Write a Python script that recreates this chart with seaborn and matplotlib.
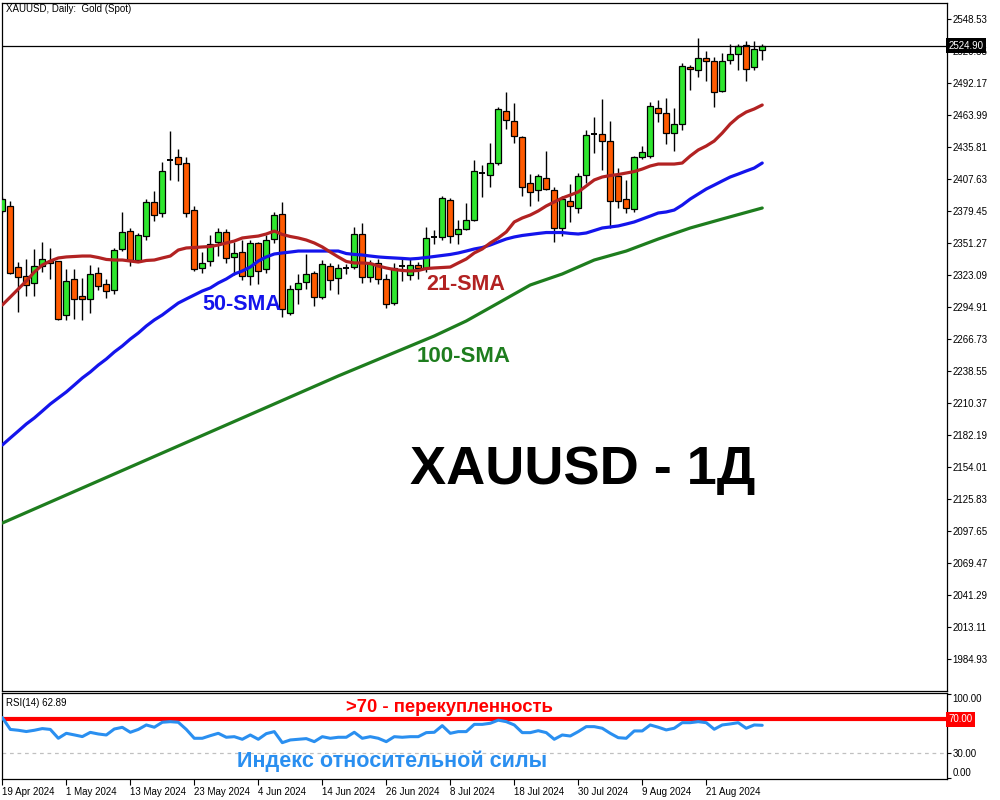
import numpy as np
import pandas as pd
import matplotlib
matplotlib.use("Agg")
import matplotlib.pyplot as plt
import seaborn as sns

# ---------------- data ----------------
opens = [2379.5, 2383.9, 2330.1, 2322.2, 2316.1, 2331.0, 2335.4, 2335.4, 2287.9, 2319.6,
         2304.6, 2302.0, 2324.9, 2315.2, 2309.9, 2346.0, 2361.8, 2336.3, 2357.4, 2387.4,
         2377.7, 2424.6, 2427.0, 2421.7, 2380.3, 2329.3, 2335.4, 2352.2, 2361.0, 2339.0,
         2343.3, 2322.2, 2351.3, 2328.4, 2354.8, 2376.8, 2289.6, 2310.8, 2316.9, 2324.9,
         2303.7, 2331.0, 2320.5, 2329.5, 2330.1, 2359.2, 2321.3, 2333.7, 2319.6, 2298.4,
         2330.8, 2323.1, 2331.9, 2329.3, 2356.8, 2356.6, 2389.1, 2359.2, 2363.6, 2371.5,
         2412.7, 2411.2, 2421.7, 2467.5, 2458.7, 2444.6, 2404.1, 2398.0, 2408.5, 2398.0,
         2364.5, 2388.3, 2382.1, 2411.2, 2447.0, 2447.3, 2441.1, 2410.3, 2390.0, 2381.2,
         2427.0, 2427.9, 2470.2, 2465.8, 2448.1, 2456.1, 2506.3, 2503.6, 2514.2, 2511.5,
         2485.1, 2512.4, 2517.7, 2525.6, 2506.3, 2521.2]
highs = [2391.8, 2388.3, 2334.5, 2337.2, 2346.0, 2352.2, 2346.9, 2335.8, 2328.4, 2328.4,
         2320.5, 2331.9, 2330.1, 2319.6, 2346.9, 2378.6, 2364.5, 2360.1, 2390.0, 2397.1,
         2422.6, 2449.9, 2434.1, 2427.0, 2383.9, 2343.3, 2358.3, 2364.5, 2363.6, 2352.2,
         2353.9, 2353.9, 2352.2, 2358.3, 2378.6, 2387.4, 2314.3, 2324.0, 2341.6, 2326.6,
         2336.3, 2333.7, 2332.8, 2332.8, 2365.4, 2368.9, 2336.3, 2337.2, 2324.0, 2333.7,
         2338.1, 2338.1, 2334.5, 2365.4, 2362.7, 2392.7, 2390.9, 2371.5, 2386.5, 2424.4,
         2420.0, 2439.3, 2471.0, 2484.2, 2474.6, 2445.5, 2412.0, 2412.0, 2432.3, 2400.6,
         2392.7, 2403.2, 2412.9, 2450.8, 2462.2, 2478.1, 2458.7, 2417.3, 2406.8, 2427.9,
         2436.7, 2475.4, 2477.2, 2479.0, 2470.2, 2509.8, 2508.0, 2531.8, 2520.3, 2515.1,
         2518.6, 2526.5, 2526.5, 2529.2, 2529.2, 2526.5]
lows = [2377.7, 2324.0, 2290.5, 2304.6, 2304.6, 2325.7, 2319.6, 2283.5, 2283.5, 2284.3,
        2283.5, 2289.6, 2309.9, 2302.8, 2306.4, 2344.2, 2331.0, 2335.4, 2353.9, 2370.7,
        2374.2, 2406.8, 2405.9, 2374.2, 2326.6, 2324.9, 2331.0, 2339.8, 2333.7, 2323.1,
        2318.7, 2314.3, 2315.2, 2324.9, 2351.3, 2286.1, 2287.9, 2297.6, 2310.8, 2295.8,
        2302.0, 2309.9, 2306.4, 2324.0, 2328.4, 2316.1, 2316.9, 2315.2, 2294.0, 2296.7,
        2317.8, 2318.7, 2319.6, 2325.7, 2350.4, 2353.9, 2351.3, 2350.4, 2362.7, 2371.0,
        2391.8, 2400.6, 2420.0, 2451.7, 2439.3, 2392.7, 2383.9, 2388.3, 2398.0, 2352.2,
        2357.4, 2369.8, 2377.7, 2404.1, 2430.5, 2415.6, 2364.5, 2382.1, 2377.7, 2378.6,
        2425.2, 2426.1, 2457.8, 2438.5, 2432.3, 2450.8, 2486.0, 2497.5, 2493.9, 2471.0,
        2484.2, 2508.9, 2503.6, 2493.9, 2503.6, 2512.4]
closes = [2390.0, 2324.9, 2321.3, 2314.3, 2331.0, 2337.2, 2333.7, 2284.3, 2317.8, 2302.0,
          2302.0, 2324.0, 2313.4, 2309.0, 2345.1, 2361.0, 2336.3, 2358.3, 2387.4, 2375.9,
          2414.7, 2424.6, 2420.8, 2377.7, 2328.4, 2333.7, 2350.4, 2361.0, 2338.1, 2342.5,
          2322.2, 2351.3, 2326.6, 2353.9, 2375.9, 2293.2, 2310.8, 2316.1, 2324.0, 2303.7,
          2332.8, 2318.7, 2329.3, 2329.5, 2359.2, 2321.3, 2333.7, 2319.6, 2297.6, 2329.3,
          2330.8, 2331.9, 2329.3, 2355.7, 2356.8, 2390.9, 2357.4, 2363.6, 2371.5, 2414.7,
          2412.7, 2421.7, 2469.3, 2459.6, 2445.5, 2400.6, 2396.2, 2410.3, 2398.8, 2364.5,
          2390.0, 2383.9, 2410.3, 2446.4, 2447.0, 2441.1, 2388.3, 2388.3, 2382.1, 2427.0,
          2431.4, 2471.9, 2465.8, 2448.1, 2456.1, 2507.1, 2504.5, 2514.2, 2511.5, 2484.2,
          2511.5, 2517.7, 2524.8, 2504.5, 2522.1, 2524.9]

sma21 = [2296.7, 2303.7, 2310.8, 2317.8, 2325.7, 2331.9, 2335.4, 2338.1, 2339.0, 2339.4,
         2339.8, 2339.8, 2338.5, 2336.8, 2336.3, 2336.3, 2335.4, 2334.5, 2335.9, 2336.3,
         2338.1, 2339.8, 2345.1, 2346.9, 2347.3, 2347.8, 2348.2, 2349.5, 2351.3, 2353.0,
         2355.7, 2356.6, 2357.4, 2359.2, 2361.8, 2358.8, 2357.0, 2355.7, 2353.9, 2351.3,
         2347.8, 2343.3, 2339.0, 2335.0, 2333.7, 2333.7, 2333.2, 2331.0, 2329.3, 2327.9,
         2327.1, 2326.6, 2327.1, 2328.8, 2329.3, 2329.7, 2330.1, 2333.7, 2337.2, 2342.5,
         2346.0, 2351.3, 2355.7, 2361.0, 2369.8, 2373.3, 2375.9, 2379.5, 2383.9, 2387.4,
         2390.9, 2393.5, 2396.2, 2401.5, 2406.8, 2409.4, 2410.7, 2411.6, 2412.9, 2414.2,
         2416.4, 2419.1, 2420.8, 2420.8, 2420.8, 2421.7, 2427.9, 2433.2, 2436.7, 2441.1,
         2448.1, 2456.1, 2462.2, 2466.6, 2469.3, 2472.8]
sma50 = [2173.4, 2179.6, 2185.7, 2191.9, 2197.2, 2203.3, 2209.5, 2214.8, 2220.1, 2226.2,
         2232.4, 2237.7, 2243.8, 2249.1, 2255.3, 2260.6, 2266.7, 2272.0, 2278.2, 2283.5,
         2287.9, 2293.2, 2298.4, 2302.0, 2305.5, 2309.0, 2311.7, 2316.1, 2319.6, 2324.0,
         2326.6, 2330.1, 2335.4, 2339.0, 2341.6, 2342.5, 2343.3, 2344.2, 2344.2, 2344.2,
         2344.2, 2344.2, 2344.2, 2342.0, 2341.2, 2340.7, 2339.8, 2339.0, 2338.5, 2338.1,
         2337.7, 2337.2, 2337.7, 2338.5, 2339.4, 2340.3, 2341.2, 2342.5, 2344.2, 2346.0,
         2347.3, 2349.5, 2352.2, 2354.8, 2356.6, 2357.9, 2358.8, 2359.7, 2360.5, 2360.5,
         2360.5, 2359.7, 2359.2, 2360.1, 2362.3, 2364.5, 2365.4, 2366.3, 2368.0, 2369.8,
         2372.4, 2375.0, 2377.7, 2378.6, 2380.3, 2384.7, 2390.0, 2394.4, 2398.8, 2402.3,
         2405.9, 2409.4, 2412.0, 2414.7, 2417.3, 2421.7]
sma100_bar = [0, 6, 12, 18, 24, 30, 36, 42, 48, 54, 58, 62, 66, 70, 74, 78, 82, 86, 90, 95]
sma100 = [2104.7, 2123.2, 2141.7, 2160.2, 2178.7, 2197.2, 2215.7, 2234.2, 2251.8, 2269.4,
          2282.6, 2298.4, 2314.3, 2324.0, 2336.3, 2344.2, 2354.8, 2364.5, 2372.4, 2382.1]

rsi = [72, 58, 57, 55.5, 57, 59, 58, 47.5, 53.4, 51.5,
       49.5, 54.5, 52.6, 51.4, 58.5, 60.5, 54.6, 58, 63.3, 60.6,
       66.5, 67.2, 66.5, 58, 47.5, 47.5, 50.6, 53.4, 48.7, 49.4,
       46.3, 51.4, 46.3, 53, 55.4, 42.3, 45.5, 46.3, 47.1, 43.5,
       49.4, 47.5, 48.7, 48.7, 54.6, 47.5, 49.4, 47.5, 43.5, 49.4,
       48.7, 49.4, 49.4, 54.2, 54.6, 62.5, 53.4, 55.4, 55.4, 64,
       64, 65.3, 69, 67.2, 63.3, 54.2, 54.2, 56.5, 54.2, 46.3,
       51.4, 50.2, 55.4, 61.3, 61.3, 59.4, 53.4, 48.2, 47.5, 56.2,
       56.2, 63.3, 60.6, 57.4, 59.4, 66, 66, 67.2, 66, 58.2,
       63.3, 64.5, 66, 59.4, 63.3, 62.89]

date_tick_bars = [0, 8, 16, 24, 32, 40, 48, 56, 64, 72, 80, 88]
date_tick_labels = ["19 Apr 2024", "1 May 2024", "13 May 2024", "23 May 2024", "4 Jun 2024",
                    "14 Jun 2024", "26 Jun 2024", "8 Jul 2024", "18 Jul 2024", "30 Jul 2024",
                    "9 Aug 2024", "21 Aug 2024"]
price_ticks = [1984.93, 2013.11, 2041.29, 2069.47, 2097.65, 2125.83, 2154.01, 2182.19,
               2210.37, 2238.55, 2266.73, 2294.91, 2323.09, 2351.27, 2379.45, 2407.63,
               2435.81, 2463.99, 2492.17, 2520.35, 2548.53]
rsi_ticks = [0, 30, 70, 100]
last_price = 2524.90
rsi_last = 62.89

# ---------------- styling ----------------
sns.set_style("white")
plt.rcParams["font.family"] = ["Liberation Sans", "DejaVu Sans"]

UP = "#2ee62e"
DOWN = "#ff5a00"
C21 = "#b22222"
C50 = "#1414ec"
C100 = "#1e7d1e"
CRSI = "#2a8ff0"

fig = plt.figure(figsize=(10, 8), dpi=100)
fig.patch.set_facecolor("white")
ax = fig.add_axes([0.002, 0.13625, 0.945, 0.86])
axr = fig.add_axes([0.002, 0.02625, 0.945, 0.1075])

df = pd.DataFrame({"bar": np.arange(len(opens)), "open": opens, "high": highs,
                   "low": lows, "close": closes, "sma21": sma21, "sma50": sma50,
                   "rsi": rsi})
d100 = pd.DataFrame({"bar": sma100_bar, "sma100": sma100})

# candles
ax.vlines(df["bar"], df["low"], df["high"], color="black", lw=1.0, zorder=2)
body_w = 0.72
for _, r in df.iterrows():
    o, c = r["open"], r["close"]
    if abs(c - o) < 0.05:
        ax.hlines(o, r["bar"] - body_w / 2, r["bar"] + body_w / 2, color="black",
                  lw=1.4, zorder=3)
        continue
    col = UP if c > o else DOWN
    ax.bar(r["bar"], abs(c - o), bottom=min(o, c), width=body_w, color=col,
           edgecolor="black", linewidth=0.9, zorder=3)

sns.lineplot(data=d100, x="bar", y="sma100", ax=ax, color=C100, lw=2.3, legend=False, zorder=4)
sns.lineplot(data=df, x="bar", y="sma50", ax=ax, color=C50, lw=2.3, legend=False, zorder=4)
sns.lineplot(data=df, x="bar", y="sma21", ax=ax, color=C21, lw=2.3, legend=False, zorder=4)

ax.axhline(last_price, color="black", lw=0.9, zorder=5)

xlim = (-0.04, 118.1)
ax.set_xlim(*xlim)
ax.set_ylim(1956.77, 2562.62)
ax.set_xlabel("")
ax.set_ylabel("")
ax.set_xticks([])
ax.set_yticks(price_ticks)
ax.set_yticklabels([f"{v:.2f}" for v in price_ticks])
ax.yaxis.tick_right()
ax.tick_params(axis="y", right=True, left=False, labelright=True, labelleft=False,
               length=3, width=0.8, direction="out", pad=1, labelsize=7, colors="black")
for s in ax.spines.values():
    s.set_color("black")
    s.set_linewidth(0.9)

ax.text(1.002, last_price, f"{last_price:.2f}", transform=ax.get_yaxis_transform(),
        ha="left", va="center", fontsize=7, color="white", zorder=10, clip_on=False,
        bbox=dict(boxstyle="square,pad=0.25", fc="black", ec="none"))

# ---------------- RSI panel ----------------
axr.axhline(70, color="#ff0000", lw=3.0, zorder=2)
axr.axhline(30, color="#c0c0c0", lw=0.9, ls=(0, (3, 3)), zorder=1)
sns.lineplot(data=df, x="bar", y="rsi", ax=axr, color=CRSI, lw=2.2, legend=False, zorder=3)
axr.set_xlim(*xlim)
axr.set_ylim(-0.8, 101.2)
axr.set_xlabel("")
axr.set_ylabel("")
axr.set_yticks(rsi_ticks)
axr.set_yticklabels(["0.00", "30.00", "", "100.00"])
axr.yaxis.tick_right()
axr.tick_params(axis="y", right=True, left=False, labelright=True, labelleft=False,
                length=3, width=0.8, direction="out", pad=1, labelsize=7, colors="black")
lbls = axr.get_yticklabels()
lbls[0].set_verticalalignment("bottom")
lbls[3].set_verticalalignment("top")
axr.set_xticks(date_tick_bars)
axr.set_xticklabels(date_tick_labels, ha="left")
axr.tick_params(axis="x", bottom=True, length=4, width=0.8, direction="out", pad=2,
                labelsize=7, colors="black")
for s in axr.spines.values():
    s.set_color("black")
    s.set_linewidth(0.9)
axr.text(1.002, 70, "70.00", transform=axr.get_yaxis_transform(), ha="left", va="center",
         fontsize=7, color="white", zorder=10, clip_on=False,
         bbox=dict(boxstyle="square,pad=0.25", fc="#ff0000", ec="none"))

# ---------------- texts ----------------
fig.text(0.006, 1 - 9 / 800, "XAUUSD, Daily:  Gold (Spot)", ha="left", va="center",
         fontsize=7, color="black")
fig.text(0.006, 1 - 703 / 800, f"RSI(14) {rsi_last:.2f}", ha="left", va="center",
         fontsize=7, color="black")
fig.text(0.583, 1 - 470 / 800, "XAUUSD - 1Д", ha="center", va="center", fontsize=39,
         fontweight="bold", color="black")
fig.text(0.2415, 1 - 305 / 800, "50-SMA", ha="center", va="center", fontsize=15.5,
         fontweight="bold", color=C50)
fig.text(0.4655, 1 - 285 / 800, "21-SMA", ha="center", va="center", fontsize=15.5,
         fontweight="bold", color=C21)
fig.text(0.464, 1 - 357 / 800, "100-SMA", ha="center", va="center", fontsize=16,
         fontweight="bold", color=C100)
fig.text(0.4495, 1 - 707 / 800, ">70 - перекупленность", ha="center", va="center",
         fontsize=13.3, fontweight="bold", color="#ff0000")
fig.text(0.392, 1 - 761 / 800, "Индекс относительной силы", ha="center", va="center",
         fontsize=15.6, fontweight="bold", color=CRSI)

fig.savefig("out.png", dpi=100, facecolor="white")
